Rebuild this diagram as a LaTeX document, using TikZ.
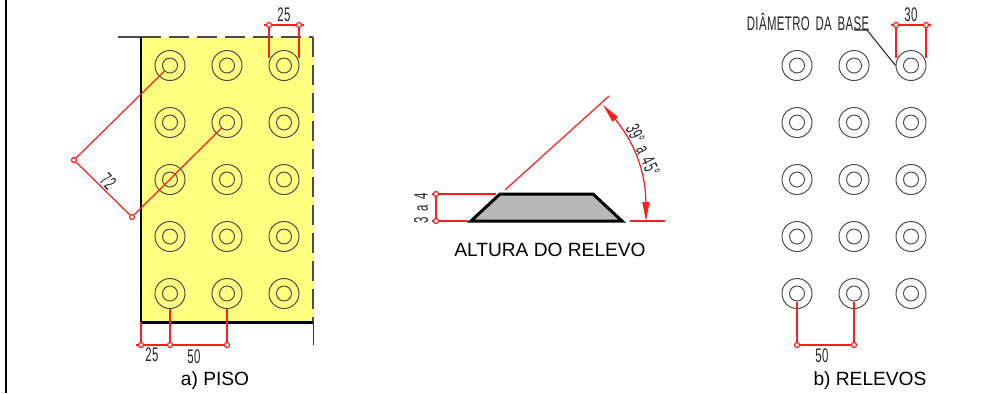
\documentclass[tikz,border=0pt]{standalone}
\usepackage{fontspec}
\setmainfont{Liberation Sans}
\newfontfamily\cadfont[FakeStretch=0.58,LetterSpace=2,WordSpace=1.6]{Liberation Sans}
\usetikzlibrary{arrows.meta}
\definecolor{pisoyellow}{RGB}{255,255,128}
\definecolor{dimred}{RGB}{255,30,30}
\begin{document}
\begin{tikzpicture}[x=0.01cm,y=-0.01cm,
		relouter/.style={circle,draw=black!70,line width=0.28pt,minimum size=0.3cm,inner sep=0pt},
		relinner/.style={circle,draw=black!70,line width=0.28pt,minimum size=0.15cm,inner sep=0pt},
		dimdot/.style={circle,draw=dimred,line width=0.35pt,minimum size=0.05cm,inner sep=0pt},
		dimline/.style={draw=dimred,line width=0.35pt},
		dimtext/.style={font=\cadfont\fontsize{5.6pt}{6.5pt}\selectfont,inner sep=0pt,text=black!85},
		caption/.style={font=\fontsize{5.45pt}{6.5pt}\selectfont,inner sep=0pt},
		edgeline/.style={draw=black,line width=0.85pt},
		cutline/.style={draw=black!70,line width=0.4pt,dash pattern=on 0.2cm off 0.08cm}]
		\useasboundingbox (0,0) rectangle (1000,393);
		\draw[line width=0.8pt] (6,0) -- (6,393);
		% piso
		\fill[pisoyellow] (141,37) rectangle (313,322);
		\coordinate (pisotl) at (141,37);
		\coordinate (pisotr) at (313,37);
		\coordinate (pisobl) at (141,322);
		\coordinate (pisobr) at (313,322);
		\draw[black!70,line width=0.4pt] (118,37) -- (pisotl);
		\draw[cutline] (pisotl) -- (pisotr);
		\draw[cutline] (pisotr) -- (pisobr);
		\draw[black!80,line width=0.28pt] (pisobr) -- (313,345);
		\draw[edgeline] (pisotl) -- (pisobl) -- (pisobr);
		\foreach \col in {1,2,3}
			\foreach \row in {1,...,5} {
				\node[relouter] (pa-\col-\row) at ({113+57*\col},{8.5+57*\row}) {};
				\node[relinner] (ia-\col-\row) at (pa-\col-\row) {};
				\node[relouter] (pb-\col-\row) at ({740+57*\col},{8.5+57*\row}) {};
				\node[relinner] (ib-\col-\row) at (pb-\col-\row) {};
			}
		% cotas do piso
		\node[dimdot] (topa) at (269,25) {};
		\node[dimdot] (topb) at (299,25) {};
		\coordinate (topaend) at (269,58);
		\coordinate (topbend) at (299,58);
		\draw[dimline] (264,25) -- (topa) -- (topb) -- (304,25);
		\draw[dimline] (topa) -- (topaend);
		\draw[dimline] (topb) -- (topbend);
		\node[dimtext] (toplabel) at (284,15) {25};
		\node[dimdot] (diaga) at (74,160) {};
		\node[dimdot] (diagb) at (132,217) {};
		\draw[dimline] (diaga) -- (diagb);
		\draw[dimline] (diaga) -- (ia-1-1.south west);
		\draw[dimline] (diagb) -- (ia-2-2.south west);
		\node[dimtext,rotate=-45] (diaglabel) at (108,181) {72};
		\node[dimdot] (bota) at (141,345) {};
		\node[dimdot] (botb) at (170,345) {};
		\node[dimdot] (botc) at (227,345) {};
		\draw[dimline] (136,345) -- (bota) -- (botb) -- (botc);
		\draw[dimline] (pisobl) -- (bota);
		\draw[dimline] (pa-1-5.south) -- (botb);
		\draw[dimline] (pa-2-5.south) -- (botc);
		\node[dimtext] (botlabela) at (152,355) {25};
		\node[dimtext] (botlabelb) at (194,357) {50};
		\node[caption] (pisocap) at (215,381) {a) PISO};
		% altura do relevo
		\coordinate (trapa) at (471,221);
		\coordinate (trapb) at (500,194);
		\coordinate (trapc) at (593,194);
		\coordinate (trapd) at (622,221);
		\draw[edgeline,fill=black!28,line join=miter] (trapa) -- (trapb) -- (trapc) -- (trapd) -- cycle;
		\coordinate (slopea) at (505,190);
		\coordinate (slopeb) at (609,96);
		\coordinate (basea) at (630,221);
		\coordinate (baseb) at (665,221);
		\coordinate (arctop) at (603,105);
		\coordinate (arcbot) at (646,221);
		\draw[dimline] (slopea) -- (slopeb);
		\draw[dimline] (basea) -- (baseb);
		\draw[dimline,{Triangle[length=0.19cm,width=0.07cm,fill=dimred]}-{Triangle[length=0.19cm,width=0.07cm,fill=dimred]}] (arctop) to[bend left=20] (arcbot);
		\node[dimtext,rotate=-65] (anglelabel) at (643,150) {39° a 45°};
		\node[dimdot] (alta) at (436,194) {};
		\node[dimdot] (altb) at (436,221) {};
		\coordinate (altaend) at (496,194);
		\coordinate (altbend) at (468,221);
		\draw[dimline] (432,194) -- (alta) -- (altaend);
		\draw[dimline] (432,221) -- (altb) -- (altbend);
		\draw[dimline] (alta) -- (altb);
		\node[dimtext,rotate=90] (altlabel) at (421,208) {3 a 4};
		\node[caption] (altcap) at (550,250) {ALTURA DO RELEVO};
		% relevos
		\node[dimtext] (diamlabel) at (808,22) {DIÂMETRO DA BASE};
		\coordinate (leada) at (854,30);
		\coordinate (leadb) at (867,30);
		\draw[black!85,line width=0.3pt] (leada) -- (leadb) -- (pb-3-1.west);
		\node[dimdot] (diama) at (896,25) {};
		\node[dimdot] (diamb) at (926,25) {};
		\coordinate (diamaend) at (896,58);
		\coordinate (diambend) at (926,58);
		\draw[dimline] (891,25) -- (diama) -- (diamb) -- (931,25);
		\draw[dimline] (diama) -- (diamaend);
		\draw[dimline] (diamb) -- (diambend);
		\node[dimtext] (diamtop) at (911,15) {30};
		\node[dimdot] (stepa) at (797,345) {};
		\node[dimdot] (stepb) at (854,345) {};
		\draw[dimline] (stepa) -- (stepb);
		\draw[dimline] (ib-1-5.south) -- (stepa);
		\draw[dimline] (ib-2-5.south) -- (stepb);
		\node[dimtext] (steplabel) at (822,356) {50};
		\node[caption] (relcap) at (870,381) {b) RELEVOS};
	\end{tikzpicture}
\end{document}
